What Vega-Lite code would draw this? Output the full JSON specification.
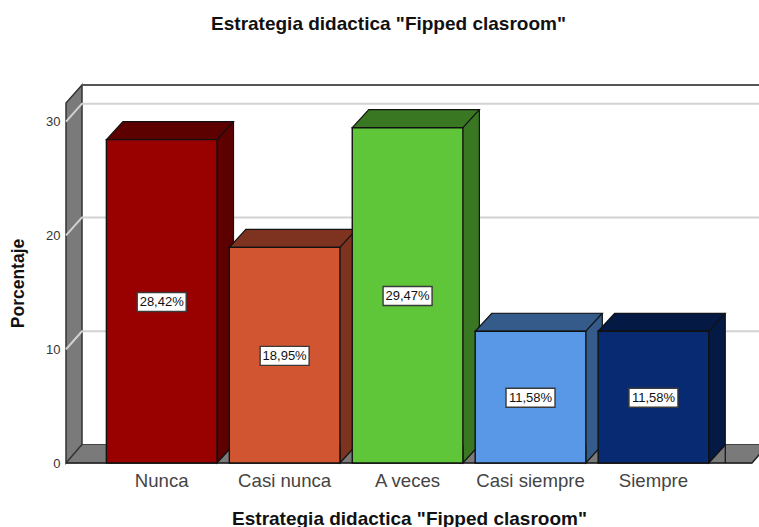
{
"$schema":"https://vega.github.io/schema/vega-lite/v6.json",
"width":686,"height":360,
"autosize":"none",
"padding":{"left":66,"top":103,"right":7,"bottom":64},
"background":"white",
"config":{"font":"Liberation Sans","view":{"stroke":null}},
"title":{"text":"Estrategia didactica \"Fipped clasroom\"","font":"Liberation Sans","fontSize":19,"fontWeight":"bold","color":"#111","anchor":"middle","dx":-20.5,"offset":47},
"data":{"values":[
{"cat":"Nunca","valor":28.42,"etiqueta":"28,42%"},
{"cat":"Casi nunca","valor":18.95,"etiqueta":"18,95%"},
{"cat":"A veces","valor":29.47,"etiqueta":"29,47%"},
{"cat":"Casi siempre","valor":11.58,"etiqueta":"11,58%"},
{"cat":"Siempre","valor":11.58,"etiqueta":"11,58%"}
]},
"encoding":{
"x":{"field":"cat","type":"nominal","sort":null,"scale":{"domain":["Nunca","Casi nunca","A veces","Casi siempre","Siempre"],"paddingInner":0.1,"paddingOuter":0.34,"align":0.483},
"axis":{"title":"Estrategia didactica \"Fipped clasroom\"","titleFont":"Liberation Sans","titleFontSize":19,"titleFontWeight":"bold","titleColor":"#111","titleY":46,"labelFont":"Liberation Sans","labelFontSize":18.6,"labelColor":"#444","labelAngle":0,"labelPadding":8,"ticks":false,"domain":false,"grid":false}},
"y":{"field":"valor","type":"quantitative","scale":{"domain":[0,31.64],"nice":false,"zero":true},
"axis":{"title":"Porcentaje","titleFont":"Liberation Sans","titleFontSize":17.5,"titleFontWeight":"bold","titleColor":"#111","titleX":-39,"values":[0,10,20,30],"labelFont":"Liberation Sans","labelFontSize":13,"labelColor":"#333","labelPadding":6,"ticks":false,"domain":false,"grid":false}}
},
"resolve":{"scale":{"color":"independent"}},
"layer":[
{"data":{"values":[{"valor":0}]},"mark":{"type":"point","filled":true,"opacity":1,"size":40000,"fill":"#7a7a7a","stroke":"#444","strokeWidth":1,"shape":"M0,0 L0.16,-0.185 L7.02,-0.185 L6.86,0 Z"},"encoding":{"x":{"value":0}}},
{"data":{"values":[{"valor":0}]},"mark":{"type":"point","filled":true,"opacity":1,"size":40000,"fill":"#7a7a7a","stroke":"#333","strokeWidth":1.5,"shape":"M0,0 L0.16,-0.185 L0.16,-3.78 L0,-3.6 Z"},"encoding":{"x":{"value":0}}},
{"data":{"values":[{"valor":0}]},"mark":{"type":"point","filled":false,"opacity":1,"size":40000,"stroke":"#555","strokeWidth":2,"shape":"M0.16,-3.78 L7.1,-3.78"},"encoding":{"x":{"value":0}}},
{"data":{"values":[{"valor":10},{"valor":20},{"valor":30}]},"mark":{"type":"point","filled":false,"opacity":1,"size":40000,"stroke":"#d2d2d2","strokeWidth":2,"shape":"M0,0 L0.16,-0.18 L7.1,-0.18"},"encoding":{"x":{"value":0}}},
{"data":{"values":[{"valor":0}]},"mark":{"type":"point","filled":false,"opacity":1,"size":40000,"stroke":"#222","strokeWidth":1.5,"shape":"M0,0 L6.86,0 L7.02,-0.185"},"encoding":{"x":{"value":0}}},
{"mark":{"type":"bar","xOffset":16.5,"yOffset":-18,"strokeWidth":0},"encoding":{"color":{"field":"cat","type":"nominal","sort":null,"legend":null,"scale":{"domain":["Nunca","Casi nunca","A veces","Casi siempre","Siempre"],"range":["#5c0000","#7e3320","#3a7722","#355b8a","#051945"]}}}},
{"mark":{"type":"rule","xOffset":71.8,"yOffset":-18,"stroke":"#111","strokeWidth":1.2},"encoding":{"y2":{"datum":0}}},
{"mark":{"type":"point","filled":true,"opacity":1,"size":40000,"stroke":"#111","strokeWidth":1.2,"shape":"M0.553,-0.18 L0.553,0 L0.718,-0.18"},"encoding":{"y":{"datum":0},"color":{"field":"cat","type":"nominal","sort":null,"legend":null,"scale":{"domain":["Nunca","Casi nunca","A veces","Casi siempre","Siempre"],"range":["#5c0000","#7e3320","#3a7722","#355b8a","#051945"]}}}},
{"mark":{"type":"point","filled":true,"opacity":1,"size":40000,"stroke":"#111","strokeWidth":1.2,"shape":"M-0.553,0 L-0.388,-0.18 L0.718,-0.18 L0.553,0 Z"},"encoding":{"color":{"field":"cat","type":"nominal","sort":null,"legend":null,"scale":{"domain":["Nunca","Casi nunca","A veces","Casi siempre","Siempre"],"range":["#5c0000","#7e3320","#3a7722","#355b8a","#051945"]}}}},
{"mark":{"type":"bar","stroke":"#111","strokeWidth":1.4},"encoding":{"color":{"field":"cat","type":"nominal","sort":null,"legend":null,"scale":{"domain":["Nunca","Casi nunca","A veces","Casi siempre","Siempre"],"range":["#990000","#D25532","#60C639","#5898E6","#082A73"]}}}},
{"transform":[{"calculate":"datum.valor/2","as":"mitad"}],"mark":{"type":"point","filled":true,"opacity":1,"size":40000,"fill":"white","stroke":"#3a3a3a","strokeWidth":1.4,"yOffset":0.7,"shape":"M-0.245,-0.095 L0.245,-0.095 L0.245,0.095 L-0.245,0.095 Z"},"encoding":{"y":{"field":"mitad","type":"quantitative"}}},
{"transform":[{"calculate":"datum.valor/2","as":"mitad"}],"mark":{"type":"text","font":"Liberation Sans","fontSize":13,"color":"#111","align":"center","baseline":"middle","yOffset":0.7},"encoding":{"y":{"field":"mitad","type":"quantitative"},"text":{"field":"etiqueta"}}}
]
}
